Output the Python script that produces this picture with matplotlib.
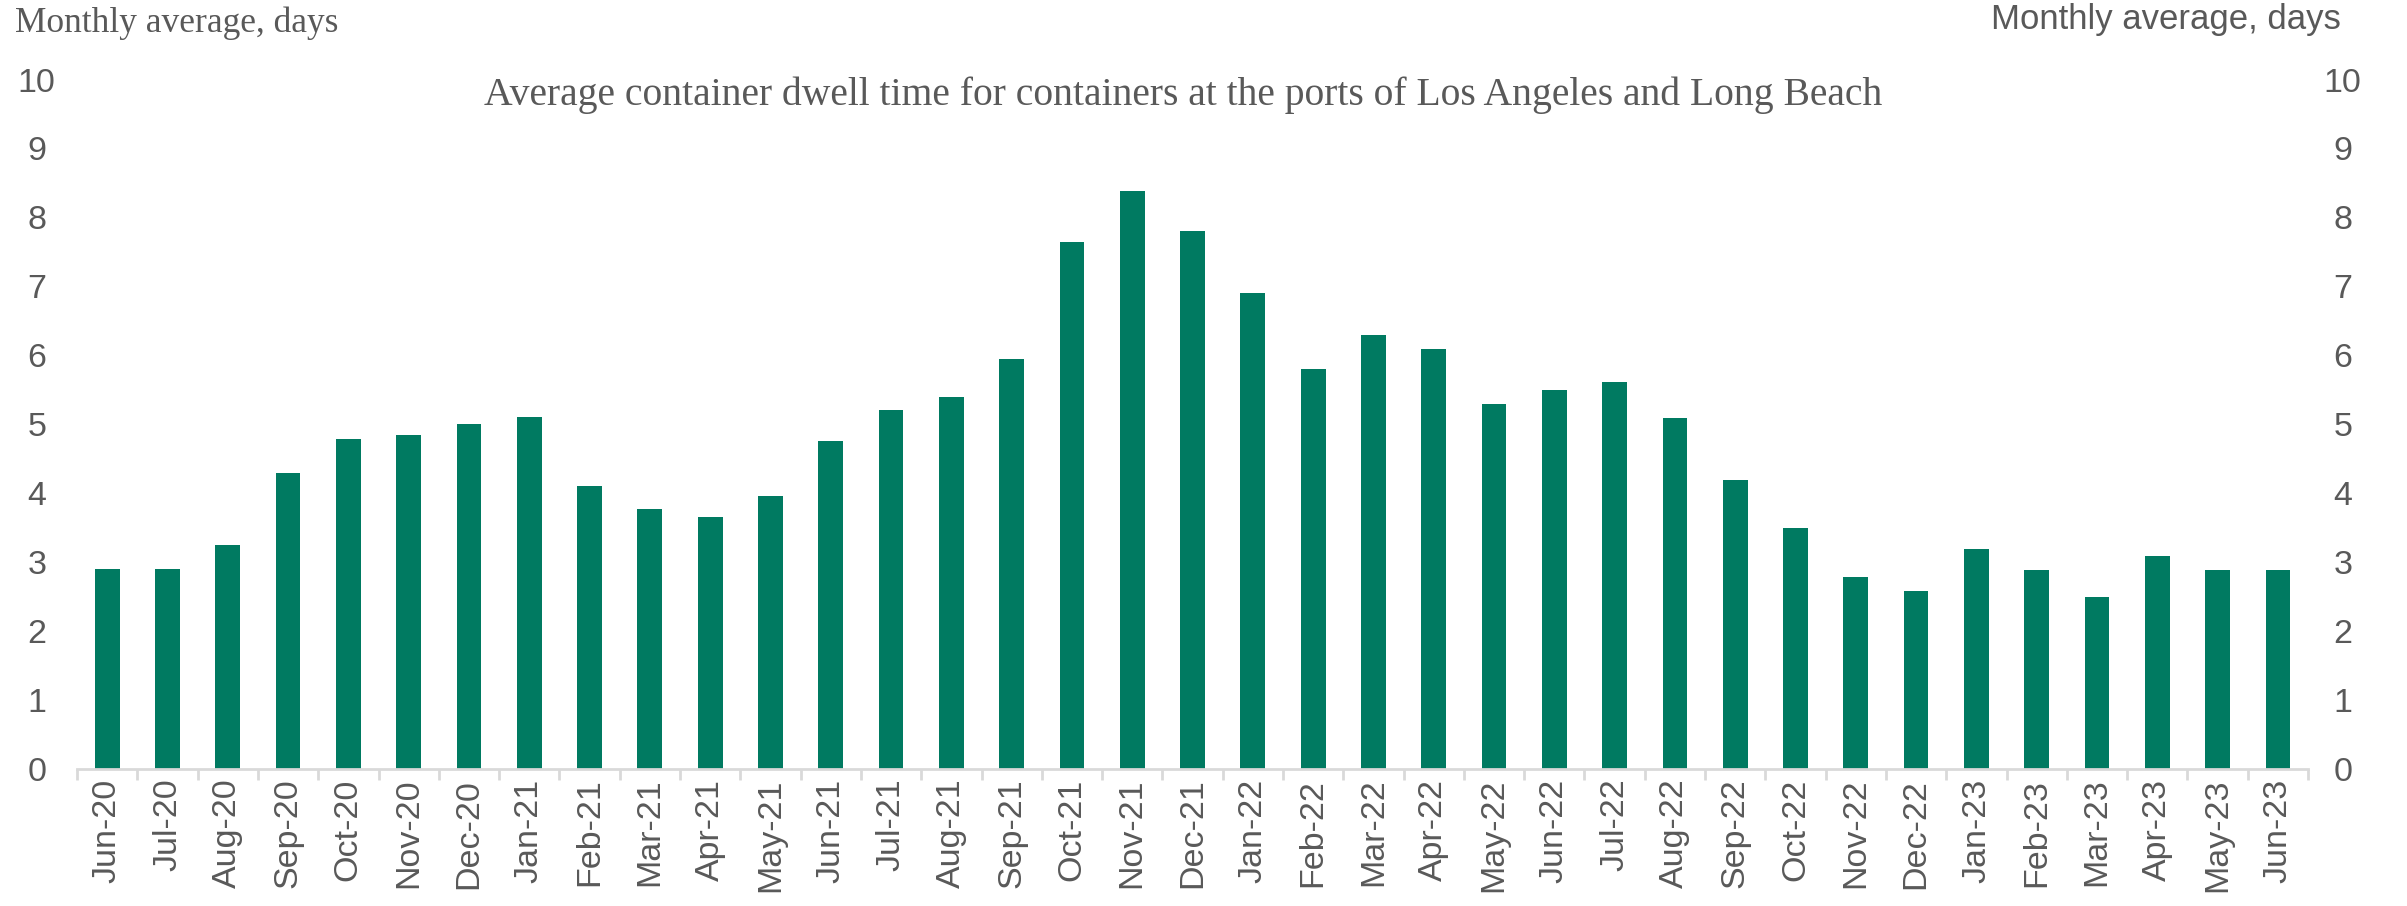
import numpy as np
import matplotlib
matplotlib.use("Agg")
import matplotlib.pyplot as plt

## ==========Data
months = ["Jun-20", "Jul-20", "Aug-20", "Sep-20", "Oct-20", "Nov-20", "Dec-20",
          "Jan-21", "Feb-21", "Mar-21", "Apr-21", "May-21", "Jun-21", "Jul-21",
          "Aug-21", "Sep-21", "Oct-21", "Nov-21", "Dec-21", "Jan-22", "Feb-22",
          "Mar-22", "Apr-22", "May-22", "Jun-22", "Jul-22", "Aug-22", "Sep-22",
          "Oct-22", "Nov-22", "Dec-22", "Jan-23", "Feb-23", "Mar-23", "Apr-23",
          "May-23", "Jun-23"]
dwell_days = [2.9, 2.9, 3.25, 4.3, 4.78, 4.85, 5.0, 5.1, 4.1, 3.77, 3.65, 3.96,
              4.76, 5.2, 5.4, 5.94, 7.65, 8.38, 7.8, 6.9, 5.8, 6.3, 6.09, 5.3,
              5.5, 5.62, 5.09, 4.19, 3.49, 2.79, 2.58, 3.19, 2.89, 2.49, 3.09,
              2.89, 2.89]
y_ticks = list(range(0, 11))

title = "Average container dwell time for containers at the ports of Los Angeles and Long Beach"
y_label = "Monthly average, days"

## ==========Style
bar_color = "#007A61"
text_gray = "#595959"
axis_gray = "#D9D9D9"
sans = "Liberation Sans"
serif = "Liberation Serif"

fig = plt.figure(figsize=(24.07, 9.06), dpi=100)
ax = fig.add_axes([0.032, 0.1512, 0.9269, 0.761])

x = np.arange(len(months))
ax.bar(x, dwell_days, width=0.41, color=bar_color)

ax.set_xlim(-0.5, len(months) - 0.5)
ax.set_ylim(0, 10)

for s in ["top", "left", "right"]:
    ax.spines[s].set_visible(False)
ax.spines["bottom"].set_color(axis_gray)
ax.spines["bottom"].set_linewidth(2)

## ==========x axis: labels at bars, ticks between them
ax.set_xticks(x)
ax.set_xticklabels(months, rotation=90, fontsize=24.5, family=sans, color=text_gray)
ax.tick_params(axis="x", which="major", length=0, pad=7)
ax.set_xticks(np.arange(-0.5, len(months), 1.0), minor=True)
ax.tick_params(axis="x", which="minor", length=8, width=2, color=axis_gray)

## ==========y axes, both sides
ax.set_yticks(y_ticks)
ax.set_yticklabels([str(t) for t in y_ticks], fontsize=24.5, family=sans, color=text_gray)
ax.tick_params(axis="y", length=0, pad=29)
for lbl in ax.get_yticklabels():
    lbl.set_ha("center")

ax2 = ax.twinx()
ax2.set_ylim(0, 10)
ax2.set_yticks(y_ticks)
ax2.set_yticklabels([str(t) for t in y_ticks], fontsize=24.5, family=sans, color=text_gray)
ax2.tick_params(axis="y", length=0, pad=25)
for lbl in ax2.get_yticklabels():
    lbl.set_ha("center")
for s in ax2.spines.values():
    s.set_visible(False)

## ==========Texts
fig.text(1183 / 2407, 1 - 95 / 906, title, ha="center", va="center",
         fontsize=28.5, family=serif, color=text_gray)
fig.text(15 / 2407, 1 - 23 / 906, y_label, ha="left", va="center",
         fontsize=25.5, family=serif, color=text_gray)
fig.text(2341 / 2407, 1 - 20 / 906, y_label, ha="right", va="center",
         fontsize=25, family=sans, color=text_gray)

fig.savefig("out.png", dpi=100)
